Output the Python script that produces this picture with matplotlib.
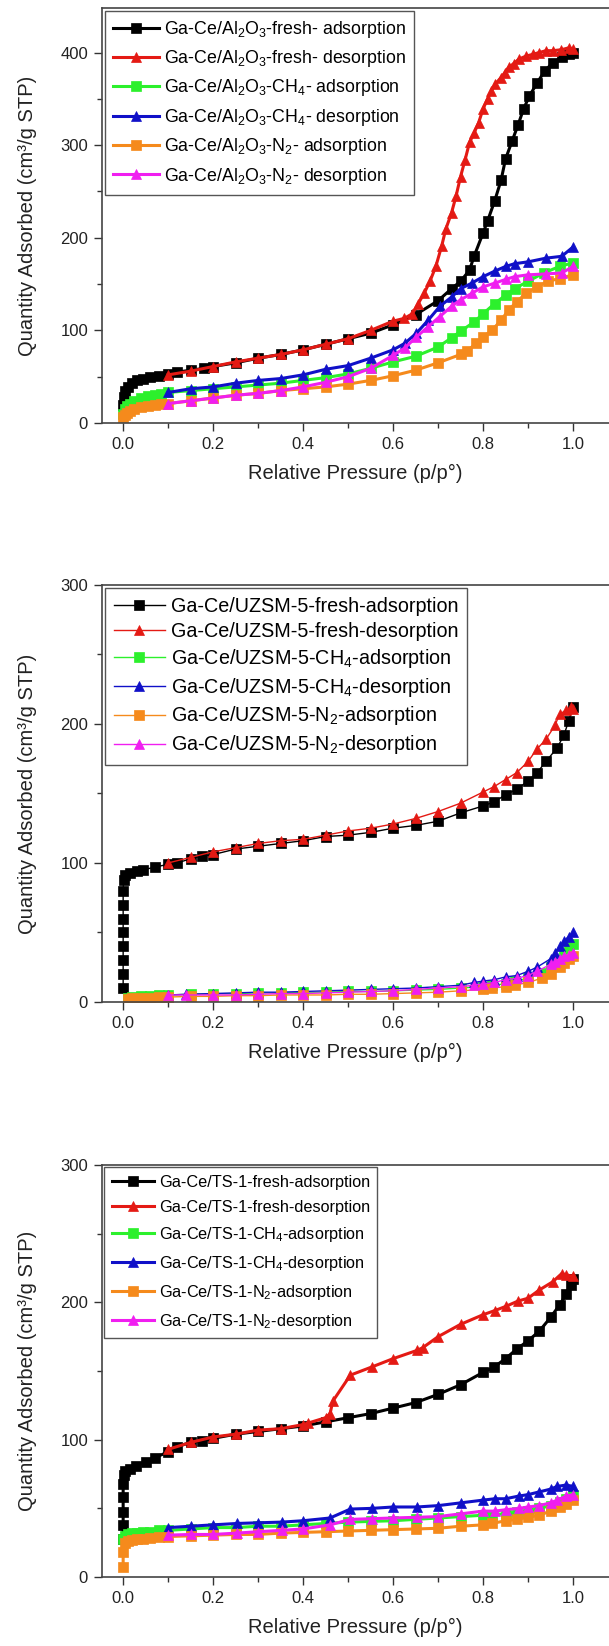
import numpy as np
import matplotlib.pyplot as plt

plt.rcParams['font.family'] = ['Liberation Sans', 'DejaVu Sans']
plt.rcParams['mathtext.default'] = 'regular'

# -------------------------------------------------------------
# Panel 1: Ga-Ce/Al2O3
# -------------------------------------------------------------
al_fresh_ads_p = [0.0, 0.002, 0.005, 0.01, 0.02, 0.03, 0.045, 0.06, 0.08, 0.1, 0.12, 0.15, 0.18,
                  0.2, 0.25, 0.3, 0.35, 0.4, 0.45, 0.5, 0.55, 0.6, 0.65, 0.7, 0.73, 0.75, 0.77,
                  0.78, 0.8, 0.81, 0.826, 0.84, 0.85, 0.865, 0.878, 0.89, 0.903, 0.92, 0.937,
                  0.955, 0.976, 0.99, 1.0]
al_fresh_ads_q = [19, 28, 35, 39, 43, 46, 48, 50, 51, 53, 55, 57, 59, 61, 65, 70, 74, 79, 85, 91,
                  97, 106, 117, 132, 145, 153, 165, 180, 205, 218, 240, 262, 285, 305, 322, 339,
                  353, 367, 380, 389, 395, 398, 400]
al_fresh_des_p = [1.0, 0.99, 0.974, 0.955, 0.94, 0.925, 0.91, 0.895, 0.88, 0.868, 0.857, 0.848,
                  0.84, 0.827, 0.818, 0.81, 0.8, 0.79, 0.78, 0.77, 0.76, 0.75, 0.74, 0.73, 0.717,
                  0.708, 0.695, 0.682, 0.669, 0.656, 0.643, 0.625, 0.6, 0.55, 0.5, 0.45, 0.4,
                  0.35, 0.3, 0.25, 0.2, 0.15, 0.1]
al_fresh_des_q = [404, 405, 403, 402, 402, 400, 398, 396, 393, 388, 384, 378, 373, 366, 358, 350,
                  339, 324, 313, 303, 284, 266, 245, 227, 209, 191, 169, 153, 140, 129, 118, 113,
                  110, 100, 91, 85, 79, 74, 70, 66, 61, 56, 52]
al_ads_p = [0.0, 0.003, 0.008, 0.015, 0.025, 0.04, 0.055, 0.07, 0.085, 0.1, 0.15, 0.2, 0.25, 0.3,
            0.35, 0.4, 0.45, 0.5, 0.55, 0.6, 0.65, 0.7, 0.73, 0.75, 0.78, 0.8, 0.826, 0.85, 0.87,
            0.9, 0.935, 0.97, 1.0]
al_ch4_ads_q = [10, 15, 18, 21, 24, 27, 29, 30, 31, 33, 35, 37, 39, 41, 43, 46, 49, 53, 59, 66,
                72, 82, 92, 99, 109, 118, 129, 138, 145, 153, 162, 169, 173]
al_des_p = [1.0, 0.975, 0.94, 0.9, 0.87, 0.85, 0.826, 0.8, 0.775, 0.75, 0.73, 0.704, 0.678,
            0.652, 0.626, 0.6, 0.55, 0.5, 0.45, 0.4, 0.35, 0.3, 0.25, 0.2, 0.15, 0.1]
al_ch4_des_q = [190, 180, 178, 174, 172, 169, 164, 158, 151, 145, 136, 126, 111, 97, 86, 79, 70,
                62, 58, 52, 48, 46, 43, 39, 37, 33]
al_n2_ads_p = [0.0, 0.003, 0.008, 0.015, 0.025, 0.04, 0.055, 0.07, 0.085, 0.1, 0.15, 0.2, 0.25,
               0.3, 0.35, 0.4, 0.45, 0.5, 0.55, 0.6, 0.65, 0.7, 0.75, 0.765, 0.785, 0.8, 0.82,
               0.84, 0.857, 0.875, 0.896, 0.92, 0.944, 0.97, 1.0]
al_n2_ads_q = [7, 9, 11, 13, 15, 17, 18, 19, 20, 21, 24, 27, 30, 32, 35, 37, 39, 42, 46, 51, 57,
               65, 74, 78, 86, 93, 100, 111, 122, 131, 140, 147, 153, 156, 160]
al_n2_des_q = [169, 162, 161, 160, 158, 155, 151, 147, 140, 133, 126, 115, 104, 93, 81, 73, 59,
               50, 44, 39, 35, 32, 30, 27, 24, 21]

# -------------------------------------------------------------
# Panel 2: Ga-Ce/UZSM-5
# -------------------------------------------------------------
uz_fresh_ads_p = [0.0, 0.0, 0.0, 0.0, 0.0, 0.0, 0.0, 0.0, 0.001, 0.005, 0.015, 0.03, 0.045, 0.07,
                  0.1, 0.12, 0.15, 0.175, 0.2, 0.25, 0.3, 0.35, 0.4, 0.45, 0.5, 0.55, 0.6, 0.65,
                  0.7, 0.75, 0.8, 0.825, 0.85, 0.875, 0.9, 0.92, 0.94, 0.965, 0.98, 0.99, 1.0]
uz_fresh_ads_q = [10, 20, 30, 40, 50, 60, 70, 80, 88, 91, 93, 94, 95, 97, 99, 100, 103, 105, 106,
                  110, 112, 114, 116, 119, 120, 122, 125, 127, 130, 136, 141, 144, 149, 153, 159,
                  165, 173, 183, 192, 202, 212]
uz_fresh_des_p = [1.0, 0.995, 0.985, 0.97, 0.96, 0.94, 0.92, 0.9, 0.875, 0.85, 0.825, 0.8, 0.75,
                  0.7, 0.65, 0.6, 0.55, 0.5, 0.45, 0.4, 0.35, 0.3, 0.25, 0.2, 0.15, 0.1]
uz_fresh_des_q = [211, 212, 210, 207, 199, 189, 182, 173, 165, 160, 155, 151, 143, 137, 132, 128,
                  125, 123, 120, 117, 116, 114, 111, 108, 104, 100]
uz_ads_p = [0.01, 0.02, 0.04, 0.06, 0.08, 0.1, 0.15, 0.2, 0.25, 0.3, 0.35, 0.4, 0.45, 0.5, 0.55,
            0.6, 0.65, 0.7, 0.75, 0.8, 0.82, 0.85, 0.87, 0.9, 0.93, 0.95, 0.97, 0.98, 0.99, 1.0]
uz_ch4_ads_q = [3, 3.5, 4, 4.5, 5, 5, 5.5, 6, 6, 6.5, 6.5, 7, 7, 7.5, 7.5, 8, 8.5, 9, 10, 11, 12,
                13, 15, 17, 21, 25, 30, 34, 38, 42]
uz_n2_ads_q = [2, 2.5, 3, 3, 3.5, 3.5, 4, 4, 4.5, 4.5, 5, 5, 5, 5.5, 5.5, 6, 6.5, 7, 8, 9, 10,
               11, 12, 14, 17, 20, 25, 28, 31, 33]
uz_des_p = [1.0, 0.99, 0.98, 0.97, 0.96, 0.95, 0.92, 0.9, 0.875, 0.85, 0.825, 0.8, 0.78, 0.75,
            0.7, 0.65, 0.6, 0.55, 0.5, 0.45, 0.4, 0.35, 0.3, 0.25, 0.2, 0.14, 0.1]
uz_ch4_des_q = [50, 47, 44, 40, 35, 31, 25, 22, 19, 18, 16, 15, 14, 12, 11, 10, 9.5, 9, 8.5, 8,
                7.5, 7, 7, 6.5, 6, 5.5, 5]
uz_n2_des_q = [35, 34, 33, 31, 29, 27, 22, 19, 17, 16, 14, 13, 12, 11, 10, 9, 8, 7.5, 7, 6.5, 6,
               6, 5.5, 5, 5, 5, 5]

# -------------------------------------------------------------
# Panel 3: Ga-Ce/TS-1
# -------------------------------------------------------------
ts_fresh_ads_p = [0.0, 0.0, 0.0, 0.0, 0.0, 0.001, 0.005, 0.015, 0.028, 0.05, 0.07, 0.1, 0.12,
                  0.15, 0.175, 0.2, 0.25, 0.3, 0.35, 0.4, 0.45, 0.5, 0.55, 0.6, 0.65, 0.7, 0.75,
                  0.8, 0.825, 0.85, 0.875, 0.9, 0.925, 0.95, 0.97, 0.985, 0.995, 1.0]
ts_fresh_ads_q = [28, 38, 47, 58, 68, 74, 77, 79, 81, 84, 87, 91, 95, 98, 99, 101, 104, 106, 108,
                  110, 113, 116, 119, 123, 127, 133, 140, 149, 153, 159, 166, 172, 179, 189, 198,
                  206, 213, 217]
ts_fresh_des_p = [1.0, 0.985, 0.975, 0.955, 0.925, 0.9, 0.878, 0.85, 0.826, 0.8, 0.75, 0.7,
                  0.666, 0.653, 0.6, 0.553, 0.505, 0.466, 0.46, 0.45, 0.41, 0.4, 0.35, 0.3, 0.25,
                  0.2, 0.15, 0.1]
ts_fresh_des_q = [219, 220, 221, 215, 209, 203, 201, 197, 194, 191, 184, 175, 167, 165, 159, 153,
                  147, 128, 119, 116, 112, 111, 108, 107, 104, 102, 98, 93]
ts_ch4_ads_p = [0.0, 0.003, 0.01, 0.02, 0.03, 0.045, 0.06, 0.08, 0.1, 0.15, 0.2, 0.25, 0.3, 0.35,
                0.4, 0.45, 0.5, 0.55, 0.6, 0.65, 0.7, 0.75, 0.8, 0.82, 0.85, 0.875, 0.9, 0.925,
                0.95, 0.97, 0.985, 1.0]
ts_ch4_ads_q = [28, 30, 31, 32, 32, 33, 33, 34, 34, 35, 36, 36, 37, 37, 38, 39, 40, 40.5, 41, 42,
                43, 44, 45, 45.5, 46, 47, 48, 50, 52, 55, 57, 60]
ts_des_p = [1.0, 0.985, 0.965, 0.95, 0.925, 0.9, 0.88, 0.85, 0.826, 0.8, 0.75, 0.7, 0.653, 0.6,
            0.553, 0.505, 0.46, 0.4, 0.353, 0.3, 0.253, 0.2, 0.15, 0.1]
ts_ch4_des_q = [66, 67, 66, 64, 62, 60, 59, 57, 57, 56, 54, 52, 51, 51, 50, 49.5, 43, 41, 40,
                39.5, 39, 38, 37, 36]
ts_n2_des_q = [60, 59, 56, 54, 52, 51, 50, 49, 48, 48, 46, 44, 43.5, 43, 42.5, 42, 38, 35, 34, 33,
               32, 31, 31, 30.5]
ts_n2_ads_p = [0.0, 0.0, 0.003, 0.01, 0.02, 0.03, 0.045, 0.06, 0.08, 0.1, 0.15, 0.2, 0.25, 0.3,
               0.35, 0.4, 0.45, 0.5, 0.55, 0.6, 0.65, 0.7, 0.75, 0.8, 0.82, 0.85, 0.875, 0.9,
               0.925, 0.95, 0.97, 0.985, 1.0]
ts_n2_ads_q = [7, 18, 25, 26, 27, 27.5, 28, 28.5, 29, 29.5, 30, 30.5, 31, 31, 32, 32.5, 33, 33.5,
               34, 34.5, 35, 35.5, 37, 38, 39, 41, 42, 43.5, 45, 48, 51, 53, 56]

# -------------------------------------------------------------
# Styles
# -------------------------------------------------------------
colors  = ['#000000', '#e41a14', '#2cf02c', '#1010c8', '#f58a1c', '#f01ef0']
markers = ['s', '^', 's', '^', 's', '^']

al_labels = ['Ga-Ce/Al$_2$O$_3$-fresh- adsorption', 'Ga-Ce/Al$_2$O$_3$-fresh- desorption',
             'Ga-Ce/Al$_2$O$_3$-CH$_4$- adsorption', 'Ga-Ce/Al$_2$O$_3$-CH$_4$- desorption',
             'Ga-Ce/Al$_2$O$_3$-N$_2$- adsorption', 'Ga-Ce/Al$_2$O$_3$-N$_2$- desorption']
uz_labels = ['Ga-Ce/UZSM-5-fresh-adsorption', 'Ga-Ce/UZSM-5-fresh-desorption',
             'Ga-Ce/UZSM-5-CH$_4$-adsorption', 'Ga-Ce/UZSM-5-CH$_4$-desorption',
             'Ga-Ce/UZSM-5-N$_2$-adsorption', 'Ga-Ce/UZSM-5-N$_2$-desorption']
ts_labels = ['Ga-Ce/TS-1-fresh-adsorption', 'Ga-Ce/TS-1-fresh-desorption',
             'Ga-Ce/TS-1-CH$_4$-adsorption', 'Ga-Ce/TS-1-CH$_4$-desorption',
             'Ga-Ce/TS-1-N$_2$-adsorption', 'Ga-Ce/TS-1-N$_2$-desorption']

panels = [
    dict(series=[(al_fresh_ads_p, al_fresh_ads_q), (al_fresh_des_p, al_fresh_des_q),
                 (al_ads_p, al_ch4_ads_q), (al_des_p, al_ch4_des_q),
                 (al_n2_ads_p, al_n2_ads_q), (al_des_p, al_n2_des_q)],
         labels=al_labels, rect=[0.1675, 0.7430, 0.8325, 0.2521], ylim=(0, 448),
         yticks=[0, 100, 200, 300, 400], lw=2.2, ms=6.5, fs=12.8, lsp=0.47),
    dict(series=[(uz_fresh_ads_p, uz_fresh_ads_q), (uz_fresh_des_p, uz_fresh_des_q),
                 (uz_ads_p, uz_ch4_ads_q), (uz_des_p, uz_ch4_des_q),
                 (uz_ads_p, uz_n2_ads_q), (uz_des_p, uz_n2_des_q)],
         labels=uz_labels, rect=[0.1675, 0.3913, 0.8325, 0.2533], ylim=(0, 300),
         yticks=[0, 100, 200, 300], lw=1.0, ms=6.5, fs=14.2, lsp=0.3),
    dict(series=[(ts_fresh_ads_p, ts_fresh_ads_q), (ts_fresh_des_p, ts_fresh_des_q),
                 (ts_ch4_ads_p, ts_ch4_ads_q), (ts_des_p, ts_ch4_des_q),
                 (ts_n2_ads_p, ts_n2_ads_q), (ts_des_p, ts_n2_des_q)],
         labels=ts_labels, rect=[0.1675, 0.0419, 0.8325, 0.2503], ylim=(0, 300),
         yticks=[0, 100, 200, 300], lw=2.2, ms=6.5, fs=11.7, lsp=0.62),
]

fig = plt.figure(figsize=(6.09, 16.46), dpi=100)

for pan in panels:
    ax = fig.add_axes(pan['rect'])
    for (p, q), c, m, lab in zip(pan['series'], colors, markers, pan['labels']):
        ax.plot(p, q, color=c, marker=m, ms=pan['ms'], lw=pan['lw'], label=lab,
                markeredgewidth=0.5)
    ax.set_xlim(-0.047, 1.08)
    ax.set_ylim(*pan['ylim'])
    ax.set_xticks([0.0, 0.2, 0.4, 0.6, 0.8, 1.0])
    ax.set_xticklabels(['0.0', '0.2', '0.4', '0.6', '0.8', '1.0'])
    ax.set_xticks(np.arange(0.1, 1.0, 0.2), minor=True)
    ax.set_yticks(pan['yticks'])
    ax.set_yticks(np.arange(50, pan['ylim'][1], 100), minor=True)
    ax.tick_params(which='major', direction='out', length=6, width=1.0, labelsize=12,
                   color='#333333', labelcolor='#222222', pad=4)
    ax.tick_params(which='minor', direction='out', length=3.5, width=1.0, color='#333333')
    ax.spines['right'].set_visible(False)
    for s in ['left', 'bottom', 'top']:
        ax.spines[s].set_color('#444444')
        ax.spines[s].set_linewidth(1.2)
    ax.set_xlabel('Relative Pressure (p/p°)', fontsize=14.5, color='#222222', labelpad=9)
    ax.set_ylabel('Quantity Adsorbed (cm³/g STP)', fontsize=14.5, color='#222222', labelpad=17)
    leg = ax.legend(loc='upper left', fontsize=pan['fs'], frameon=True, fancybox=False,
                    edgecolor='#555555', framealpha=1, borderaxespad=0.15,
                    handlelength=2.6, handletextpad=0.3, labelspacing=pan['lsp'], borderpad=0.45)
    leg.get_frame().set_linewidth(1.0)

fig.savefig('out.png', dpi=100)
